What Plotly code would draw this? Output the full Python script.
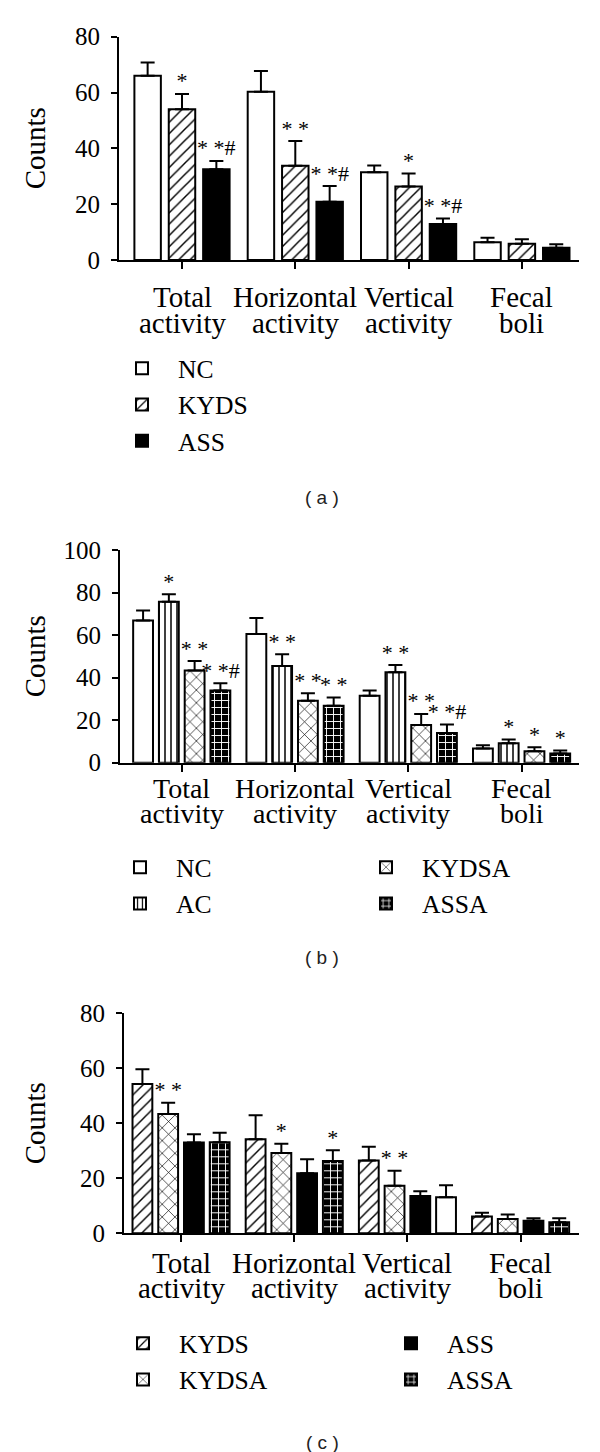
import plotly.graph_objects as go

W, H = 600, 1452

categories = ["Total activity", "Horizontal activity", "Vertical activity", "Fecal boli"]
label_line1 = ["Total", "Horizontal", "Vertical", "Fecal"]
label_line2 = ["activity", "activity", "activity", "boli"]

# ---------- panel (a) ----------
a_NC = [66.0, 60.3, 31.4, 6.4]
a_NC_err = [4.8, 7.4, 2.5, 1.6]
a_KYDS = [54.0, 33.8, 26.3, 5.8]
a_KYDS_err = [5.5, 8.8, 4.7, 1.6]
a_ASS = [32.5, 20.9, 12.9, 4.4]
a_ASS_err = [3.0, 5.6, 2.0, 1.2]
a_KYDS_sig = ["*", "* *", "*", ""]
a_ASS_sig = ["* *#", "* *#", "* *#", ""]

# ---------- panel (b) ----------
b_NC = [66.8, 60.5, 31.5, 6.7]
b_NC_err = [4.7, 7.5, 2.4, 1.5]
b_AC = [75.7, 45.5, 42.5, 9.2]
b_AC_err = [3.5, 5.5, 3.4, 1.7]
b_KYDSA = [43.3, 29.1, 17.7, 5.4]
b_KYDSA_err = [4.5, 3.5, 5.2, 1.9]
b_ASSA = [33.9, 26.8, 14.0, 4.3]
b_ASSA_err = [3.4, 3.9, 4.0, 1.4]
b_AC_sig = ["*", "* *", "* *", "*"]
b_KYDSA_sig = ["* *", "* *", "* *", "*"]
b_ASSA_sig = ["* *#", "* *", "* *#", "*"]

# ---------- panel (c) ----------
c_KYDS = [54.3, 34.2, 26.5, 6.1]
c_KYDS_err = [5.4, 8.7, 5.0, 1.4]
c_KYDSA = [43.4, 29.2, 17.3, 5.2]
c_KYDSA_err = [4.1, 3.4, 5.4, 1.6]
c_ASS = [33.0, 21.8, 13.6, 4.6]
c_ASS_err = [3.0, 5.1, 1.7, 0.9]
c_ASSA = [33.1, 26.3, 13.1, 4.0]
c_ASSA_err = [3.5, 3.9, 4.4, 1.5]
c_KYDSA_sig = ["* *", "*", "* *", ""]
c_ASSA_sig = ["", "*", "", ""]
c_ASSA_plain = [False, False, True, False]  # the bar printed without its pattern

SERIF = "Liberation Serif, Times New Roman, serif"
SANS = "Liberation Sans, Arial, sans-serif"


def px_x(p):
    return p / W


def px_y(p):
    return 1 - p / H


PATTERNS = {
    "KYDS": dict(shape="/", fg="black", bg="white", size=8, solidity=0.18),
    "KYDSA": dict(shape="x", fg="black", bg="white", size=9, solidity=0.14),
    "AC": dict(shape="|", fg="black", bg="white", size=6, solidity=0.25),
    "ASSA": dict(shape="+", fg="white", bg="black", size=7, solidity=0.25),
}


def marker_for(name, n, plain=None):
    line = dict(color="black", width=2)
    if name == "NC":
        return dict(color="white", line=line)
    if name == "ASS":
        return dict(color="black", line=line)
    p = PATTERNS[name]
    shape = p["shape"] if plain is None else ["" if q else p["shape"] for q in plain]
    return dict(color=p["fg"], line=line,
                pattern=dict(shape=shape, fgcolor=p["fg"], bgcolor=p["bg"],
                             size=p["size"], solidity=p["solidity"], fillmode="replace"))


fig = go.Figure()


def add_panel(k, series):
    xa = "x" if k == 1 else f"x{k}"
    ya = "y" if k == 1 else f"y{k}"
    for name, vals, errs, sig, plain, legend_name in series:
        fig.add_trace(go.Bar(
            x=categories, y=vals, name=name, xaxis=xa, yaxis=ya,
            offsetgroup=name, alignmentgroup=f"g{k}",
            marker=marker_for(name, len(vals), plain), legend=legend_name,
            error_y=dict(type="data", array=errs, arrayminus=[0] * len(errs),
                         symmetric=False, color="black", thickness=2, width=7),
        ))
        fig.add_trace(go.Scatter(
            x=categories, y=[v + e for v, e in zip(vals, errs)], mode="text",
            text=sig, textposition="top center", xaxis=xa, yaxis=ya,
            offsetgroup=name, alignmentgroup=f"g{k}", showlegend=False,
            cliponaxis=False, hoverinfo="skip",
            textfont=dict(family=SERIF, size=22, color="black"),
        ))


add_panel(1, [
    ("NC", a_NC, a_NC_err, [""] * 4, None, "legend"),
    ("KYDS", a_KYDS, a_KYDS_err, a_KYDS_sig, None, "legend"),
    ("ASS", a_ASS, a_ASS_err, a_ASS_sig, None, "legend"),
])

add_panel(2, [
    ("NC", b_NC, b_NC_err, [""] * 4, None, "legend2"),
    ("AC", b_AC, b_AC_err, b_AC_sig, None, "legend2"),
    ("KYDSA", b_KYDSA, b_KYDSA_err, b_KYDSA_sig, None, "legend3"),
    ("ASSA", b_ASSA, b_ASSA_err, b_ASSA_sig, None, "legend3"),
])

add_panel(3, [
    ("KYDS", c_KYDS, c_KYDS_err, [""] * 4, None, "legend4"),
    ("KYDSA", c_KYDSA, c_KYDSA_err, c_KYDSA_sig, None, "legend4"),
    ("ASS", c_ASS, c_ASS_err, [""] * 4, None, "legend5"),
    ("ASSA", c_ASSA, c_ASSA_err, c_ASSA_sig, c_ASSA_plain, "legend5"),
])

# panel geometry in pixels
panels = {
    1: dict(l=119, r=579, t=36.7, b=260, xr=[-0.556, 3.504], ymax=80, dt=20),
    2: dict(l=120, r=579, t=550, b=762.7, xr=[-0.545, 3.507], ymax=100, dt=20),
    3: dict(l=124, r=579, t=1013.3, b=1233.3, xr=[-0.504, 3.516], ymax=80, dt=20),
}

axis_common = dict(showline=True, linecolor="black", linewidth=2, ticks="outside",
                   tickcolor="black", tickwidth=2, showgrid=False, zeroline=False,
                   tickfont=dict(family=SERIF, size=25, color="black"))

annotations = []
label_pos = {1: (297, 323.5, 29), 2: (788.5, 813.5, 28), 3: (1262.5, 1287.5, 29)}
for k, p in panels.items():
    sx = "" if k == 1 else str(k)
    fig.update_layout(**{
        f"xaxis{sx}": dict(axis_common, domain=[px_x(p["l"]), px_x(p["r"])],
                           range=p["xr"], type="category", ticklen=7,
                           showticklabels=False, anchor=f"y{sx}"),
        f"yaxis{sx}": dict(axis_common, domain=[px_y(p["b"]), px_y(p["t"])],
                           range=[0, p["ymax"]], dtick=p["dt"], ticklen=6,
                           ticklabelstandoff=6, anchor=f"x{sx}"),
    })
    l1, l2, fs = label_pos[k]
    for cat, t1, t2 in zip(categories, label_line1, label_line2):
        for txt, yy in ((t1, l1), (t2, l2)):
            annotations.append(dict(x=cat, y=px_y(yy), xref=f"x{sx}", yref="paper",
                                    text=txt, showarrow=False, xanchor="center",
                                    yanchor="middle",
                                    font=dict(family=SERIF, size=fs, color="black")))
    annotations.append(dict(x=px_x(35), y=px_y((p["t"] + p["b"]) / 2), xref="paper",
                            yref="paper", text="Counts", textangle=-90, showarrow=False,
                            xanchor="center", yanchor="middle",
                            font=dict(family=SERIF, size=29, color="black")))

for txt, yy in (("( a )", 497), ("( b )", 958), ("( c )", 1442)):
    annotations.append(dict(x=px_x(322), y=px_y(yy), xref="paper", yref="paper",
                            text=txt, showarrow=False, xanchor="center", yanchor="middle",
                            font=dict(family=SANS, size=19, color="#222")))

legend_font = dict(family=SERIF, size=25.6, color="black")


def legend_at(xp, yp):
    return dict(x=px_x(xp), y=px_y(yp), xanchor="left", yanchor="top",
                orientation="v", font=legend_font, itemwidth=62,
                bgcolor="rgba(0,0,0,0)", borderwidth=0)


fig.update_layout(
    width=W, height=H,
    margin=dict(l=0, r=0, t=0, b=0, autoexpand=False),
    paper_bgcolor="white", plot_bgcolor="white",
    barmode="group", bargap=0.09, bargroupgap=0.23,
    scattermode="group",
    showlegend=True,
    legend=legend_at(106, 345),
    legend2=legend_at(104, 844),
    legend3=legend_at(350, 844),
    legend4=legend_at(107, 1320),
    legend5=legend_at(375, 1320),
    annotations=annotations,
)

fig.write_html("out.html", config={"displayModeBar": False},
               post_script="document.body.style.margin='0';")
